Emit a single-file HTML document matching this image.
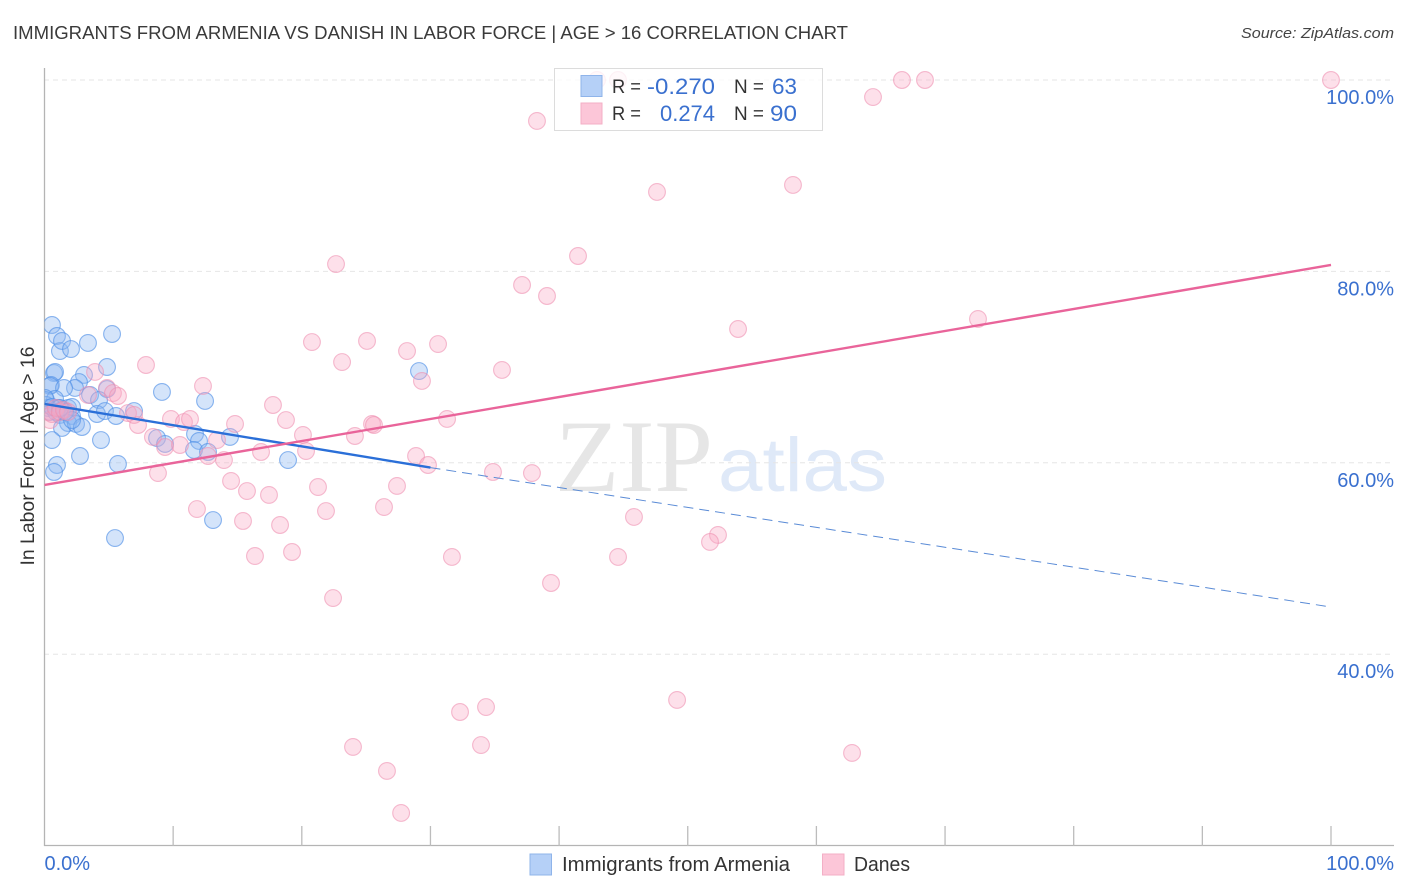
<!DOCTYPE html>
<html lang="en">
<head>
<meta charset="utf-8">
<title>Immigrants from Armenia vs Danish in Labor Force | Age > 16 Correlation Chart</title>
<style>
html,body{margin:0;padding:0;background:#fff;width:1406px;height:892px;overflow:hidden}
svg{display:block}
text{font-family:"Liberation Sans",sans-serif}
</style>
</head>
<body>
<svg id="chart" xmlns="http://www.w3.org/2000/svg" width="1406" height="892" viewBox="0 0 1406 892">
  <defs>
    <clipPath id="plot-clip"><rect x="44.5" y="60" width="1362" height="786"/></clipPath>
  </defs>
  <text x="13" y="39" font-size="18" fill="#3a3a3a" textLength="835" lengthAdjust="spacingAndGlyphs">IMMIGRANTS FROM ARMENIA VS DANISH IN LABOR FORCE | AGE &gt; 16 CORRELATION CHART</text>
  <text x="1394" y="38" font-size="15" font-style="italic" fill="#444" text-anchor="end" textLength="153" lengthAdjust="spacingAndGlyphs">Source: ZipAtlas.com</text>
  <g>
    <text x="555" y="491" font-size="103" fill="#e6e6e6" textLength="158" lengthAdjust="spacingAndGlyphs" style="font-family:'Liberation Serif',serif">ZIP</text>
    <text x="718" y="491" font-size="76" fill="#dfe9f8" textLength="169" lengthAdjust="spacingAndGlyphs">atlas</text>
  </g>
  <g id="grid"></g>
  <g id="axes"></g>
  <g clip-path="url(#plot-clip)">
    <g id="blue-points"></g>
    <g id="pink-points"></g>
    <g id="trends"></g>
  </g>
  <g>
    <rect x="554.5" y="68.5" width="268" height="62" fill="#fff" fill-opacity="0.8" stroke="#dcdcdc" stroke-width="1"/>
    <rect x="581" y="75.5" width="21" height="21" fill="#b5d0f7" stroke="#8fb4ea" stroke-width="1"/>
    <rect x="581" y="103" width="21" height="21" fill="#fcc6d8" stroke="#f3afc6" stroke-width="1"/>
    <text x="612" y="93" font-size="19" fill="#333" textLength="29" lengthAdjust="spacingAndGlyphs">R =</text>
    <text x="647" y="94" font-size="22" fill="#3a70cf" textLength="68" lengthAdjust="spacingAndGlyphs">-0.270</text>
    <text x="734" y="93" font-size="19" fill="#333" textLength="30" lengthAdjust="spacingAndGlyphs">N =</text>
    <text x="772" y="94" font-size="22" fill="#3a70cf" textLength="25" lengthAdjust="spacingAndGlyphs">63</text>
    <text x="612" y="120" font-size="19" fill="#333" textLength="29" lengthAdjust="spacingAndGlyphs">R =</text>
    <text x="660" y="121" font-size="22" fill="#3a70cf" textLength="55" lengthAdjust="spacingAndGlyphs">0.274</text>
    <text x="734" y="120" font-size="19" fill="#333" textLength="30" lengthAdjust="spacingAndGlyphs">N =</text>
    <text x="770" y="121" font-size="22" fill="#3a70cf" textLength="27" lengthAdjust="spacingAndGlyphs">90</text>
  </g>
  <text transform="translate(34,456) rotate(-90)" font-size="19" fill="#333" text-anchor="middle" textLength="219" lengthAdjust="spacingAndGlyphs">In Labor Force | Age &gt; 16</text>
  <g>
    <rect x="530" y="854" width="21.5" height="21" fill="#b5d0f7" stroke="#8fb4ea" stroke-width="1"/>
    <text x="562" y="871" font-size="20" fill="#333" textLength="228" lengthAdjust="spacingAndGlyphs">Immigrants from Armenia</text>
    <rect x="822.5" y="854" width="21.5" height="21" fill="#fcc6d8" stroke="#f3afc6" stroke-width="1"/>
    <text x="854" y="871" font-size="20" fill="#333" textLength="56" lengthAdjust="spacingAndGlyphs">Danes</text>
  </g>
</svg>
<script>
const armeniaX = [0.58,0.97,1.2,1.36,2.06,3.38,5.25,4.86,3.07,0.74,0.82,0.5,0.43,2.68,2.37,1.52,4.86,9.13,12.48,3.54,4.24,0.12,0.82,0.43,1.05,1.36,1.83,2.14,4.08,4.7,5.56,6.96,1.2,2.14,1.83,1.36,2.45,2.91,4.39,0.58,2.76,0.97,0.74,5.71,8.75,9.37,11.7,12.01,11.62,12.71,14.42,18.93,13.1,5.48,29.11,0.12,0.27,0.89,1.59,2.14,0.04,0.58,1.2];
const armeniaY = [74.4,73.25,71.68,72.73,71.89,72.52,73.46,70.01,69.18,69.38,69.49,68.13,68.03,68.44,67.82,67.82,67.71,67.4,66.46,67.09,66.56,66.56,66.67,65.31,65.73,65.52,65.73,65.83,65.1,65.41,64.89,65.41,65.0,64.89,64.16,63.64,64.06,63.74,62.38,62.38,60.71,59.77,59.04,59.88,62.59,61.97,63.01,62.28,61.34,61.13,62.7,60.29,54.02,52.14,69.59,66.04,65.73,65.31,65.31,64.47,66.77,65.83,65.73];
const danesX = [100,68.44,66.65,64.4,42.95,44.58,38.28,58.18,47.61,41.47,22.66,37.12,39.06,72.56,53.91,20.79,25.07,30.59,28.18,23.13,35.56,7.89,3.93,12.32,29.34,4.86,5.32,5.71,3.38,17.76,18.77,31.29,14.81,25.46,25.61,20.09,24.13,9.83,10.84,11.31,7.27,6.49,6.96,8.43,9.37,10.53,13.41,12.71,13.95,16.83,20.33,28.88,29.81,34.86,37.89,8.82,14.5,15.74,17.45,21.26,27.4,11.85,15.43,18.31,21.88,26.39,45.82,52.35,51.73,16.36,19.24,31.67,44.58,39.37,22.43,49.17,32.3,34.32,33.93,23.98,62.77,26.62,27.72,0.43,0.27,0.58,0.89,1.2,1.52,1.83];
const danesY = [100,100,100,98.22,100,100,95.72,89.03,88.3,81.61,80.77,78.58,77.43,75.03,73.98,72.62,72.73,72.41,71.68,70.53,69.7,70.22,69.49,68.03,68.55,67.82,67.29,66.98,67.09,66.04,64.47,64.58,64.06,64.06,63.95,62.91,62.8,64.58,64.26,64.58,63.95,65.2,65.0,62.7,61.65,61.86,62.38,60.71,60.29,61.13,61.23,60.71,59.77,59.04,58.93,58.93,58.1,57.05,56.64,57.47,57.58,55.17,53.92,53.5,54.96,55.38,54.34,52.46,51.73,50.26,50.68,50.16,50.16,47.44,45.87,35.22,33.96,34.48,30.51,30.31,29.68,27.8,23.41,64.47,65.31,65.1,65.73,65.31,65.52,65.31];
const armeniaTrendX = [0, 30, 100];
const armeniaTrendY = [66.15, 59.5, 44.93];
const danesTrendX = [0, 100];
const danesTrendY = [57.68, 80.67];
const yTickValues = [100, 80, 60, 40];
const yTickLabels = ["100.0%", "80.0%", "60.0%", "40.0%"];
const xTickValues = [10, 20, 30, 40, 50, 60, 70, 80, 90, 100];
const xEndValues = [0, 100];
const xEndLabels = ["0.0%", "100.0%"];

const NS = "http://www.w3.org/2000/svg";
function xScale(v) { return 44.5 + v * 12.865; }
function yScale(v) { return 80 + (100 - v) * 9.57; }
function make(tag, attrs, parent) {
  const el = document.createElementNS(NS, tag);
  for (const k in attrs) el.setAttribute(k, attrs[k]);
  parent.appendChild(el);
  return el;
}
const gridG = document.getElementById("grid");
const axesG = document.getElementById("axes");
yTickValues.forEach(function (v, i) {
  const line = make("line", {x1: 44, x2: 1394, y1: yScale(v), y2: yScale(v), stroke: "#e6e6e6", "stroke-width": 1, "stroke-dasharray": "5 4"}, gridG);
  
  
  const t = make("text", {x: 1394, y: yScale(v) + 24, "font-size": 20, fill: "#3a70cf", "text-anchor": "end"}, axesG);
  t.textContent = yTickLabels[i];
  
  
});
const yAxis = make("line", {x1: 44.5, x2: 44.5, y1: 68, y2: 846, stroke: "#b4b4b4", "stroke-width": 1.3}, axesG);


const xAxis = make("line", {x1: 44, x2: 1394, y1: 845.5, y2: 845.5, stroke: "#b4b4b4", "stroke-width": 1.3}, axesG);


xTickValues.forEach(function (v) {
  const tick = make("line", {x1: xScale(v), x2: xScale(v), y1: 826, y2: 846, stroke: "#bcbcbc", "stroke-width": 1.3}, axesG);
  
  
});
xEndValues.forEach(function (v, i) {
  const t = make("text", {x: i === 0 ? xScale(v) : 1394, y: 870, "font-size": 20, fill: "#3a70cf", "text-anchor": i === 0 ? "start" : "end"}, axesG);
  t.textContent = xEndLabels[i];
  
  
});
const blueG = document.getElementById("blue-points");
armeniaX.forEach(function (v, i) {
  const c = make("circle", {cx: xScale(v), cy: yScale(armeniaY[i]), r: 8.4, fill: "#8fb8f2", "fill-opacity": 0.38, stroke: "#4f8fe6", "stroke-opacity": 0.65, "stroke-width": 1.1}, blueG);
  
  
});
const pinkG = document.getElementById("pink-points");
danesX.forEach(function (v, i) {
  const c = make("circle", {cx: xScale(v), cy: yScale(danesY[i]), r: 8.4, fill: "#f9a8c4", "fill-opacity": 0.36, stroke: "#ee8fb0", "stroke-opacity": 0.6, "stroke-width": 1.1}, pinkG);
  
  
});
const trendsG = document.getElementById("trends");
const blueSolid = make("line", {x1: xScale(armeniaTrendX[0]), y1: yScale(armeniaTrendY[0]), x2: xScale(armeniaTrendX[1]), y2: yScale(armeniaTrendY[1]), stroke: "#2a6fd8", "stroke-width": 2.4}, trendsG);


const blueDash = make("line", {x1: xScale(armeniaTrendX[1]), y1: yScale(armeniaTrendY[1]), x2: xScale(armeniaTrendX[2]), y2: yScale(armeniaTrendY[2]), stroke: "#5a8bd6", "stroke-width": 1, "stroke-dasharray": "10 6"}, trendsG);


const pinkLine = make("line", {x1: xScale(danesTrendX[0]), y1: yScale(danesTrendY[0]), x2: xScale(danesTrendX[1]), y2: yScale(danesTrendY[1]), stroke: "#e9649a", "stroke-width": 2.4}, trendsG);


</script>
</body>
</html>
